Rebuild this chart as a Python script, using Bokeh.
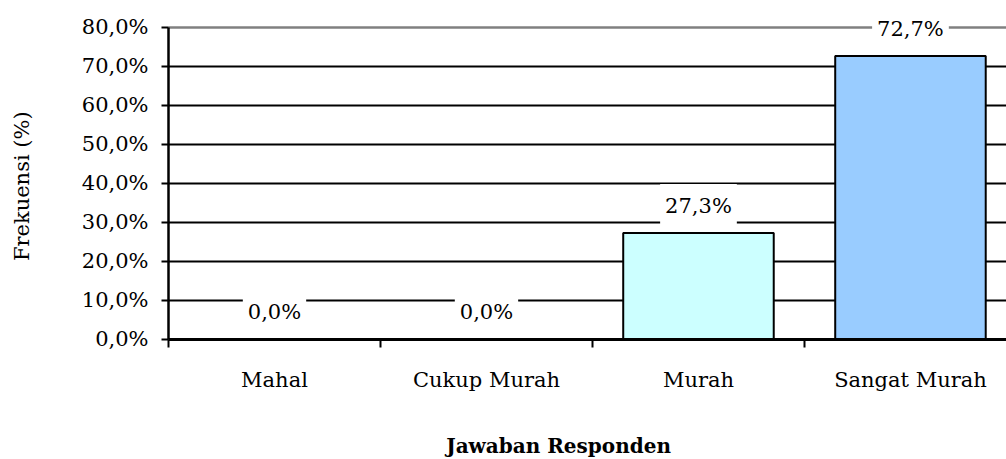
import math
from bokeh.plotting import figure
from bokeh.models import (Range1d, FixedTicker, Label, ColumnDataSource)
from bokeh.embed import file_html
from bokeh.resources import INLINE

# ---- data ----
categories = ["Mahal", "Cukup Murah", "Murah", "Sangat Murah"]
values = [0.0, 0.0, 27.3, 72.7]
value_labels = ["0,0%", "0,0%", "27,3%", "72,7%"]
bar_colors = ["#9999FF", "#993366", "#CCFFFF", "#99CCFF"]
y_ticks = [0, 10, 20, 30, 40, 50, 60, 70, 80]
y_tick_labels = ["0,0%", "10,0%", "20,0%", "30,0%", "40,0%", "50,0%", "60,0%", "70,0%", "80,0%"]
x_title = "Jawaban Responden"
y_title = "Frekuensi (%)"

FONT = "DejaVu Serif"
FS = "21px"

xs = list(range(len(categories)))
src = ColumnDataSource(dict(x=xs, top=values, color=bar_colors))

X0, X1 = -0.5, 3.453          # plot-area extent along x (categories)
p = figure(width=1006, height=459, output_backend="svg", toolbar_location=None,
           x_range=Range1d(-1.2925, X1), y_range=Range1d(-30.77, 86.92),
           min_border_left=0, min_border_right=0, min_border_top=0, min_border_bottom=0)
p.outline_line_color = None
p.background_fill_color = "white"
p.border_fill_color = "white"
p.xgrid.visible = False
p.ygrid.visible = False

# gridlines across the plot area only (inner ones black, top one grey)
inner = y_ticks[1:-1]
p.segment(x0=[X0] * len(inner), x1=[X1] * len(inner), y0=inner, y1=inner,
          line_color="black", line_width=2)
p.segment(x0=[X0], x1=[X1], y0=[y_ticks[-1]], y1=[y_ticks[-1]],
          line_color="#808080", line_width=2.5)

# bars
p.vbar(x="x", top="top", bottom=0, width=0.71, source=src, fill_color="color",
       line_color="black", line_width=2)

# y axis (fixed at the left edge of the plot area)
p.yaxis.fixed_location = X0
p.yaxis.ticker = FixedTicker(ticks=y_ticks)
p.yaxis.bounds = (y_ticks[0], y_ticks[-1])
p.yaxis.major_label_overrides = {t: s for t, s in zip(y_ticks, y_tick_labels)}
p.yaxis.axis_line_width = 2.5
p.yaxis.axis_line_color = "black"
p.yaxis.major_tick_line_width = 2
p.yaxis.major_tick_out = 7
p.yaxis.major_tick_in = 0
p.yaxis.minor_tick_line_color = None
p.yaxis.major_label_standoff = 13
p.yaxis.major_label_text_font = FONT
p.yaxis.major_label_text_font_size = FS
p.yaxis.major_label_text_color = "black"

# x axis (fixed at y = 0)
p.xaxis.fixed_location = 0
p.xaxis.bounds = (X0, X1)
p.xaxis.ticker = FixedTicker(ticks=xs, minor_ticks=[-0.5, 0.5, 1.5, 2.5, 3.5])
p.xaxis.major_label_overrides = {i: c for i, c in zip(xs, categories)}
p.xaxis.axis_line_width = 3
p.xaxis.axis_line_color = "black"
p.xaxis.major_tick_line_color = None
p.xaxis.major_tick_out = 0
p.xaxis.major_tick_in = 0
p.xaxis.minor_tick_line_color = "black"
p.xaxis.minor_tick_line_width = 2
p.xaxis.minor_tick_out = 8
p.xaxis.minor_tick_in = 0
p.xaxis.major_label_standoff = 21
p.xaxis.major_label_text_font = FONT
p.xaxis.major_label_text_font_size = FS
p.xaxis.major_label_text_color = "black"

# data labels
for xv, yv, lab in zip(xs, values, value_labels):
    p.add_layout(Label(x=xv, y=yv, text=lab, y_offset=27,
                       text_align="center", text_baseline="middle",
                       text_font=FONT, text_font_size=FS, text_color="black",
                       background_fill_color="white", padding=(5, 10)))

# axis titles
p.add_layout(Label(x=1.34, y=-27.4, text=x_title, text_align="center",
                   text_baseline="middle", text_font=FONT, text_font_size="20px",
                   text_font_style="bold", text_color="black"))
p.add_layout(Label(x=-1.191, y=39.3, text=y_title, angle=math.pi / 2,
                   text_align="center", text_baseline="middle",
                   text_font=FONT, text_font_size=FS, text_color="black"))

open("out.html", "w").write(file_html(p, INLINE))
